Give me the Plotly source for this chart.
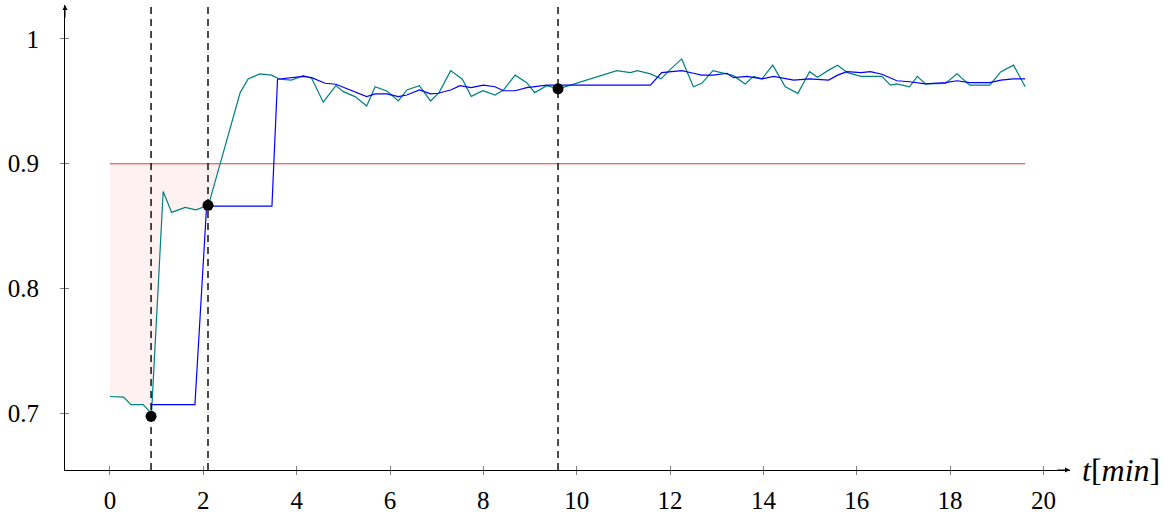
import numpy as np
import plotly.graph_objects as go

# ---- data ----
teal_t = [0, 0.29, 0.45, 0.71, 0.89, 1.14, 1.32, 1.61, 1.84, 2.11,
          2.79, 2.96, 3.21, 3.46, 3.64, 3.89, 4.14, 4.32, 4.57, 4.84,
          5.00, 5.25, 5.50, 5.68, 5.93, 6.18, 6.36, 6.63, 6.87, 7.05,
          7.30, 7.55, 7.74, 7.99, 8.25, 8.43, 8.68, 8.93, 9.10, 9.36,
          9.61, 10.86, 11.15, 11.30, 11.58, 11.81, 11.99, 12.25, 12.50, 12.68,
          12.92, 13.18, 13.36, 13.61, 13.79, 13.97, 14.20, 14.47, 14.74, 14.99,
          15.16, 15.40, 15.59, 15.80, 16.09, 16.54, 16.72, 16.86, 17.13, 17.30,
          17.47, 17.90, 18.15, 18.42, 18.85, 19.09, 19.36, 19.61]
teal_v = [0.7135, 0.713, 0.707, 0.707, 0.6998, 0.8777, 0.861, 0.865, 0.863, 0.8667,
          0.957, 0.968, 0.972, 0.971, 0.9677, 0.967, 0.9706, 0.9685, 0.9493, 0.9626,
          0.9578, 0.9538, 0.9463, 0.9617, 0.9583, 0.9503, 0.9591, 0.9626, 0.9503, 0.957,
          0.9746, 0.9677, 0.954, 0.9585, 0.955, 0.959, 0.971, 0.965, 0.957, 0.9625,
          0.960, 0.9746, 0.973, 0.9746, 0.972, 0.968, 0.975, 0.984, 0.9617, 0.9644,
          0.9746, 0.9725, 0.9706, 0.964, 0.970, 0.968, 0.979, 0.9617, 0.9564, 0.9738,
          0.9693, 0.975, 0.979, 0.973, 0.970, 0.970, 0.963, 0.964, 0.9617, 0.970,
          0.964, 0.9644, 0.972, 0.963, 0.963, 0.9738, 0.979, 0.9617]

blue_t = [0.89, 1.82, 2.07, 3.47, 3.59, 3.89, 4.14, 4.32, 4.61, 4.84,
          5.18, 5.50, 5.68, 5.93, 6.18, 6.36, 6.63, 6.87, 7.03, 7.30,
          7.50, 7.74, 8.00, 8.25, 8.43, 8.68, 8.93, 9.11, 9.36, 9.61,
          11.58, 11.82, 12.25, 12.50, 12.68, 12.93, 13.22, 13.36, 13.65, 13.97,
          14.22, 14.65, 14.99, 15.40, 15.59, 15.79, 16.09, 16.29, 16.54, 16.86,
          17.13, 17.47, 17.90, 18.15, 18.42, 18.85, 19.09, 19.36, 19.61]
blue_v = [0.707, 0.707, 0.866, 0.866, 0.9677, 0.969, 0.970, 0.969, 0.9645, 0.9637,
          0.9585, 0.9538, 0.956, 0.956, 0.9538, 0.9551, 0.9591, 0.956, 0.9565, 0.9591,
          0.9626, 0.961, 0.963, 0.9617, 0.9585, 0.9585, 0.961, 0.9617, 0.963, 0.963,
          0.963, 0.973, 0.9746, 0.9725, 0.971, 0.971, 0.9725, 0.969, 0.970, 0.968,
          0.970, 0.967, 0.968, 0.967, 0.971, 0.9738, 0.973, 0.9738, 0.9717, 0.9665,
          0.9657, 0.964, 0.965, 0.9665, 0.965, 0.965, 0.967, 0.968, 0.968]

event_t = [0.88, 2.10, 9.60]
event_v = [0.6976, 0.8667, 0.960]

threshold = 0.9
threshold_t = [0, 19.61]

x_ticks = list(range(0, 21, 2))
y_ticks = [0.7, 0.8, 0.9, 1.0]
y_labels = ["0.7", "0.8", "0.9", "1"]

X_RANGE = [-0.964, 20.57]
Y_RANGE = [0.6546, 1.0272]

# ---- shaded region: teal below threshold up to first crossing ----
tt = np.array(teal_t)
tv = np.array(teal_v)
idx = np.argmax(tv > threshold)
t0, t1 = tt[idx - 1], tt[idx]
v0, v1 = tv[idx - 1], tv[idx]
t_cross = t0 + (threshold - v0) / (v1 - v0) * (t1 - t0)
fill_x = [tt[0]] + list(tt[:idx]) + [t_cross, tt[0]]
fill_y = [threshold] + list(tv[:idx]) + [threshold, threshold]

FONT = "Times New Roman, Liberation Serif, DejaVu Serif, serif"

fig = go.Figure()
fig.add_trace(go.Scatter(x=fill_x, y=fill_y, mode="lines", fill="toself",
                         fillcolor="rgb(253,241,241)", line=dict(width=0),
                         hoverinfo="skip", showlegend=False))
fig.add_trace(go.Scatter(x=threshold_t, y=[threshold, threshold], mode="lines",
                         line=dict(color="rgb(255,50,50)", width=1.2), showlegend=False))
fig.add_trace(go.Scatter(x=teal_t, y=teal_v, mode="lines",
                         line=dict(color="#008080", width=1.2), showlegend=False))
fig.add_trace(go.Scatter(x=blue_t, y=blue_v, mode="lines",
                         line=dict(color="#0000ff", width=1.2), showlegend=False))
for t in event_t:
    fig.add_shape(type="line", xref="x", yref="paper", x0=t, x1=t, y0=0, y1=1,
                  line=dict(color="black", width=1.4, dash="7px,5px"))
fig.add_trace(go.Scatter(x=event_t, y=event_v, mode="markers",
                         marker=dict(color="black", size=11), showlegend=False))
# invisible trace for the secondary (inside-tick) axes
fig.add_trace(go.Scatter(x=[X_RANGE[0]], y=[Y_RANGE[0]], xaxis="x2", yaxis="y2",
                         mode="markers", marker=dict(opacity=0), showlegend=False,
                         hoverinfo="skip"))

axis_common = dict(showgrid=False, zeroline=False, automargin=False)
fig.update_layout(
    width=1170, height=516,
    margin=dict(l=65, r=100, t=5, b=46, autoexpand=False),
    paper_bgcolor="white", plot_bgcolor="white",
    font=dict(family=FONT, size=25, color="black"),
    xaxis=dict(range=X_RANGE, tickvals=x_ticks, ticks="outside", ticklen=4,
               tickcolor="gray", tickwidth=1, showline=True, linecolor="black",
               linewidth=1, ticklabelstandoff=4, **axis_common),
    yaxis=dict(range=Y_RANGE, tickvals=y_ticks, ticktext=y_labels, ticks="outside",
               ticklen=4, tickcolor="gray", tickwidth=1, showline=True,
               linecolor="black", linewidth=1, ticklabelstandoff=16, **axis_common),
    xaxis2=dict(range=X_RANGE, tickvals=x_ticks, ticks="inside", ticklen=4,
                tickcolor="gray", showticklabels=False, overlaying="x",
                anchor="y", side="bottom", **axis_common),
    yaxis2=dict(range=Y_RANGE, tickvals=y_ticks, ticks="inside", ticklen=4,
                tickcolor="gray", showticklabels=False, overlaying="y",
                anchor="x", side="left", **axis_common),
)

# axis arrows
fig.add_annotation(x=X_RANGE[1], y=Y_RANGE[0], xref="x", yref="y", ax=-14, ay=0,
                   showarrow=True, arrowhead=2, arrowsize=1, arrowwidth=1,
                   arrowcolor="black", text="")
fig.add_annotation(x=X_RANGE[0], y=Y_RANGE[1], xref="x", yref="y", ax=0, ay=14,
                   showarrow=True, arrowhead=2, arrowsize=1, arrowwidth=1,
                   arrowcolor="black", text="")
# axis label
fig.add_annotation(x=1, y=Y_RANGE[0], xref="paper", yref="y", xanchor="left",
                   yanchor="middle", xshift=10, showarrow=False,
                   text="<i>t</i>[<i>min</i>]", font=dict(family=FONT, size=32))

fig.write_html("out.html",
               config={"displayModeBar": False},
               post_script="document.body.style.margin='0';"
                           "document.body.style.padding='0';"
                           "document.body.style.overflow='hidden';")
